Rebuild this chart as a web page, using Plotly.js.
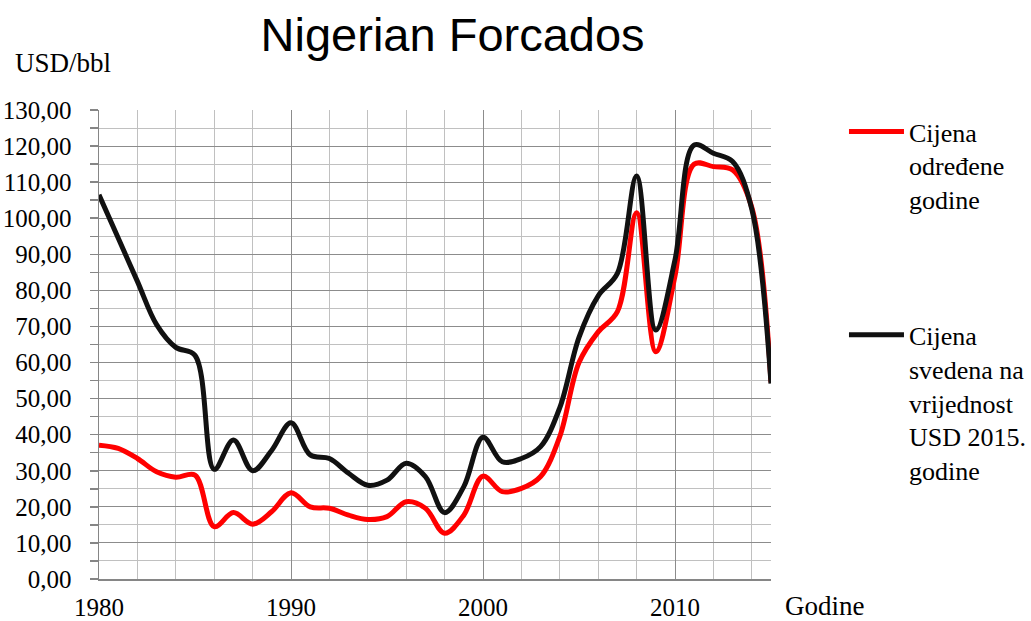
<!DOCTYPE html>
<html>
<head>
<meta charset="utf-8">
<script src="https://cdn.plot.ly/plotly-3.0.1.min.js"></script>
<style>html,body{margin:0;padding:0;background:#fff;}#chart{width:1031px;height:621px;}</style>
</head>
<body>
<div id="chart"></div>
<script>
var years = [1980,1981,1982,1983,1984,1985,1986,1987,1988,1989,1990,1991,1992,1993,1994,1995,1996,1997,1998,1999,2000,2001,2002,2003,2004,2005,2006,2007,2008,2009,2010,2011,2012,2013,2014,2015];
var nominalPrice = [37.1,36.2,33.4,29.7,28.2,28.8,14.5,18.4,15.2,18.7,23.9,20.0,19.6,17.7,16.5,17.3,21.4,19.6,12.7,17.7,28.5,24.2,25.1,28.4,39.5,60.0,68.5,74.1,101.5,63.0,84.0,115.0,114.3,113.4,103.0,54.5];
var realPrice2015 = [106.5,94.5,82.5,70.5,64.2,62.0,30.4,38.5,30.0,35.7,43.3,34.4,33.4,29.3,26.0,27.4,32.1,28.4,18.4,25.6,39.3,32.5,33.4,36.7,47.5,67.0,78.5,84.7,111.7,69.0,88.5,120.3,118.0,115.7,102.5,54.2];
var nameNominal = "Cijena<br>određene<br>godine";
var nameReal = "Cijena<br>svedena na<br>vrijednost<br>USD 2015.<br>godine";
var chartTitle = "Nigerian Forcados";
var yLabel = "USD/bbl";
var xLabel = "Godine";

var serif = "Liberation Serif";
var sans = "Liberation Sans";

var traces = [
  {x: years, y: nominalPrice, name: nameNominal, type: "scatter", mode: "lines",
   line: {color: "#ff0000", width: 5, shape: "spline", smoothing: 1}, legend: "legend"},
  {x: years, y: realPrice2015, name: nameReal, type: "scatter", mode: "lines",
   line: {color: "#111111", width: 5, shape: "spline", smoothing: 1}, legend: "legend2"}
];

var legendCommon = {font: {family: serif, size: 26, color: "#000"}, bgcolor: "rgba(0,0,0,0)",
  borderwidth: 0, xanchor: "left", yanchor: "top", valign: "top", itemwidth: 55, itemclick: false, itemdoubleclick: false};

var layout = {
  width: 1031, height: 621,
  margin: {l: 99, r: 260, t: 110, b: 42, autoexpand: false},
  paper_bgcolor: "#fff", plot_bgcolor: "#fff",
  separators: ",.",
  showlegend: true,
  title: {text: chartTitle, font: {family: sans, size: 47, color: "#000"},
    x: 0.439, xref: "container", xanchor: "center", y: 0.944, yref: "container", yanchor: "middle"},
  xaxis: {range: [1980, 2015], dtick: 10, tick0: 1980, ticks: "", showline: true, linecolor: "#868686", linewidth: 1.5,
    showgrid: true, gridcolor: "#8c8c8c", gridwidth: 1, zeroline: false,
    minor: {dtick: 2, tick0: 1980, showgrid: true, gridcolor: "#c0c0c0", gridwidth: 1, ticks: ""},
    tickfont: {family: serif, size: 25, color: "#000"}, ticklabelstandoff: 5, fixedrange: true},
  yaxis: {range: [0, 130], dtick: 10, tick0: 0, tickformat: ".2f", ticks: "outside", ticklen: 8, tickcolor: "#868686", tickwidth: 1.5,
    showline: true, linecolor: "#868686", linewidth: 1.5,
    showgrid: true, gridcolor: "#8c8c8c", gridwidth: 1, zeroline: false,
    minor: {dtick: 5, showgrid: true, gridcolor: "#c0c0c0", gridwidth: 1, ticks: "outside", ticklen: 8, tickcolor: "#868686", tickwidth: 1.5},
    tickfont: {family: serif, size: 25, color: "#000"}, ticklabelstandoff: 13, fixedrange: true},
  legend: Object.assign({}, legendCommon, {x: 1.1086, y: 1.0043}),
  legend2: Object.assign({}, legendCommon, {x: 1.1086, y: 0.5706}),
  annotations: [
    {text: yLabel, xref: "paper", yref: "paper", x: -0.128, y: 1.10, xanchor: "left", yanchor: "middle", showarrow: false,
     font: {family: serif, size: 27, color: "#000"}},
    {text: xLabel, xref: "paper", yref: "paper", x: 1.018, y: -0.058, xanchor: "left", yanchor: "middle", showarrow: false,
     font: {family: serif, size: 27, color: "#000"}}
  ]
};

Plotly.newPlot("chart", traces, layout, {displayModeBar: false, staticPlot: true});
</script>
</body>
</html>
